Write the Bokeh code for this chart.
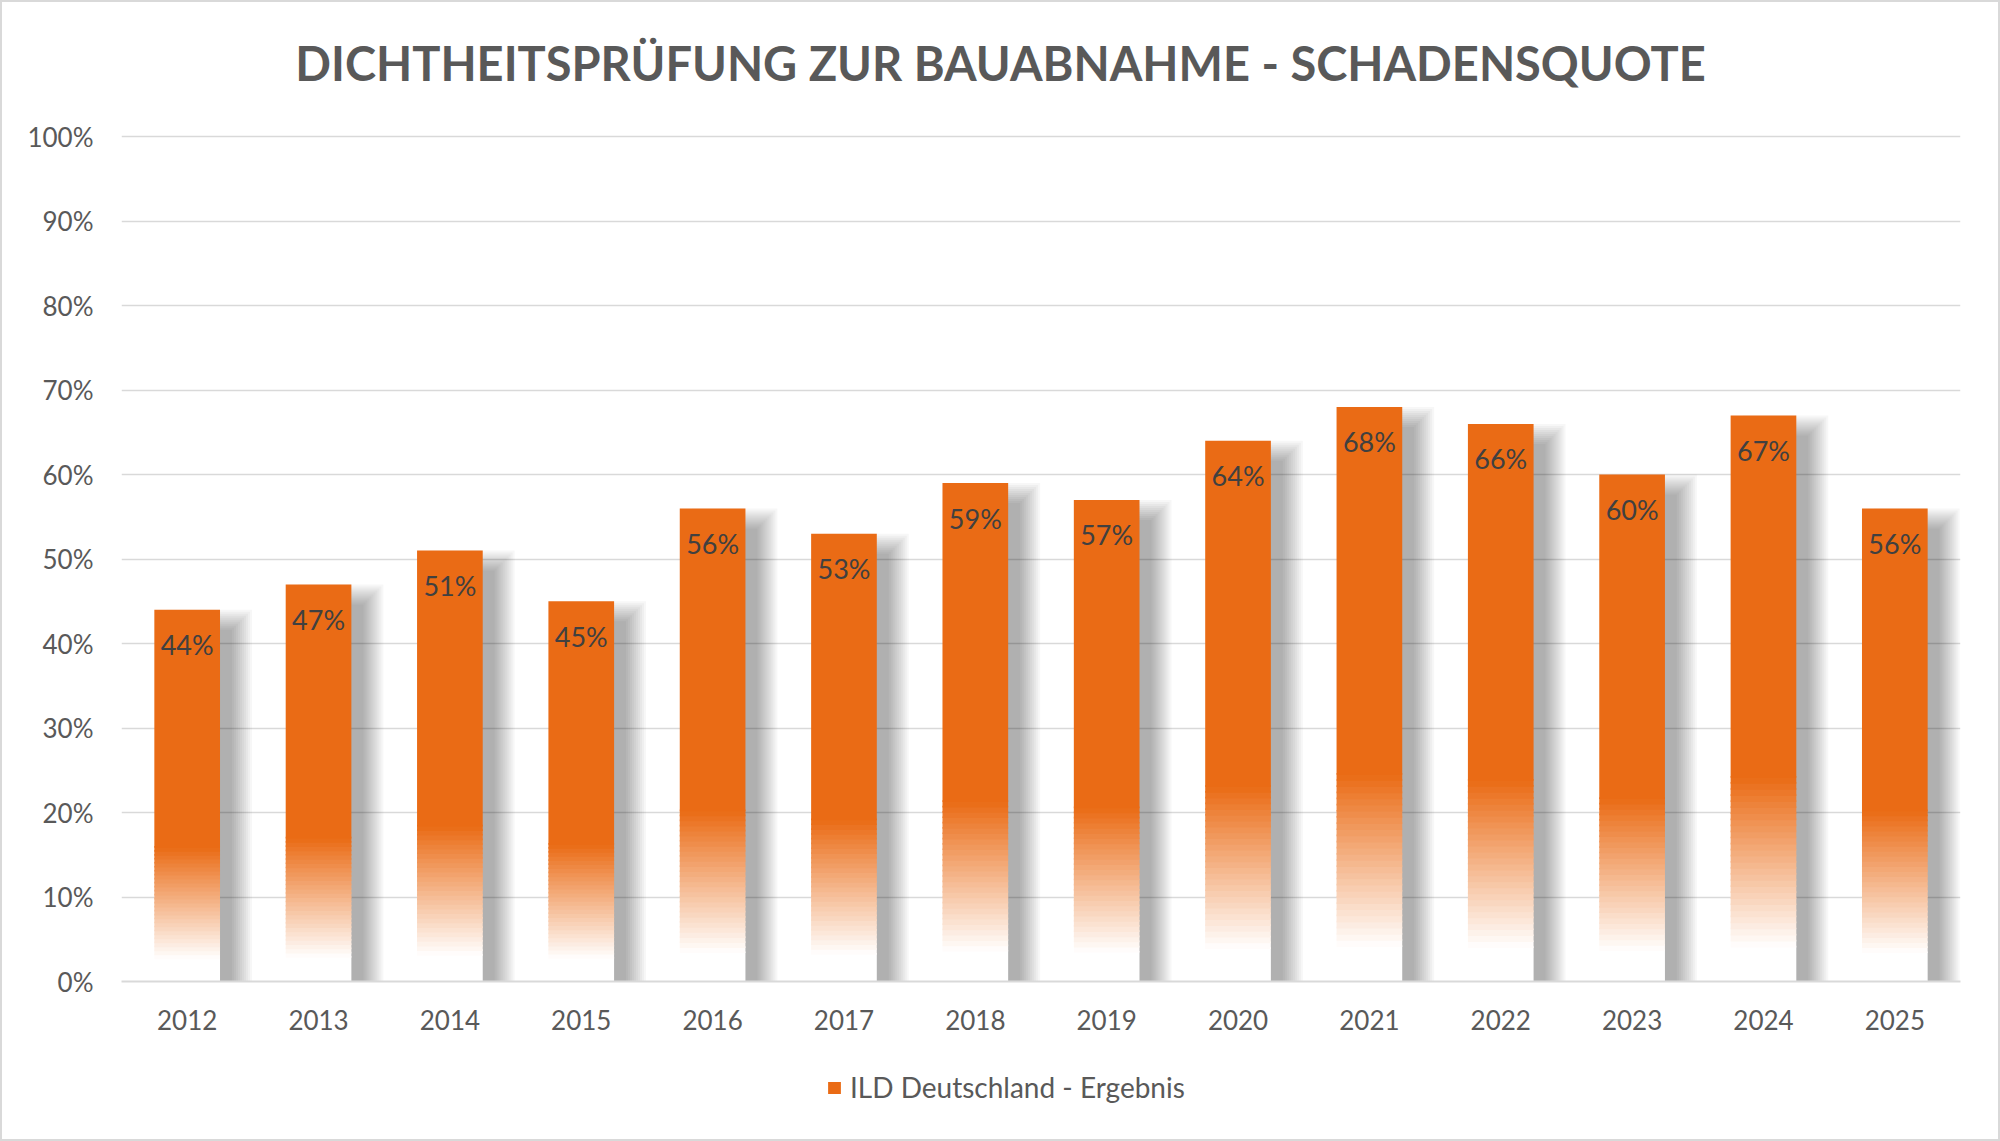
import numpy as np
from bokeh.plotting import figure
from bokeh.layouts import column
from bokeh.models import (ColumnDataSource, Range1d, FixedTicker, NumeralTickFormatter,
                          Legend, LegendItem)
from bokeh.core.properties import value
from bokeh.embed import file_html
from bokeh.resources import INLINE

# ---------------- data ----------------
years = ["2012", "2013", "2014", "2015", "2016", "2017", "2018",
         "2019", "2020", "2021", "2022", "2023", "2024", "2025"]
rates = [0.44, 0.47, 0.51, 0.45, 0.56, 0.53, 0.59,
         0.57, 0.64, 0.68, 0.66, 0.60, 0.67, 0.56]
y_ticks = [0.0, 0.1, 0.2, 0.3, 0.4, 0.5, 0.6, 0.7, 0.8, 0.9, 1.0]
title_text = "DICHTHEITSPRÜFUNG ZUR BAUABNAHME - SCHADENSQUOTE"
series_name = "ILD Deutschland - Ergebnis"
labels = [f"{round(r * 100)}%" for r in rates]

# ---------------- layout / style ----------------
W = 1996
HT, H1, H2 = 110, 940, 87
BL, BR, BT, BB = 119, 38, 14, 71
n = len(years)
Y_END = 1.012
frame_w = W - BL - BR
frame_h = H1 - BT - BB
pxx = n / frame_w          # data units per pixel (x)
pxy = Y_END / frame_h      # data units per pixel (y)

ORANGE = (234, 107, 21)
FONT = "Lato"
GRAY_TXT = "#595959"
orange_hex = "#%02x%02x%02x" % ORANGE

# ---------------- title strip ----------------
p0 = figure(width=W, height=HT, output_backend="svg", toolbar_location=None,
            x_range=Range1d(0, 1), y_range=Range1d(0, 1),
            x_axis_location=None, y_axis_location=None,
            min_border_left=BL, min_border_right=BR, min_border_top=0,
            min_border_bottom=0, outline_line_color=None,
            background_fill_color="white", border_fill_color="white")
p0.grid.visible = False
title_x = ((W / 2) - BL) / frame_w
title_y = 1 - 60 / HT
p0.text(x=[title_x], y=[title_y], text=[title_text], text_align="center",
        text_baseline="middle", text_font=value(FONT), text_font_style="bold",
        text_font_size="47px", text_color=GRAY_TXT)

# ---------------- main chart ----------------
p = figure(width=W, height=H1, output_backend="svg", toolbar_location=None,
           x_range=Range1d(-0.5, n - 0.5), y_range=Range1d(0, Y_END),
           min_border_left=BL, min_border_right=BR, min_border_top=BT,
           min_border_bottom=BB, background_fill_color="white",
           border_fill_color="white", outline_line_color=None)

# shadows (blurred, offset)
hw = 0.25
dx, dy, blur = 22 * pxx, 10 * pxy, 22
L = 11
alpha = 1 - 0.71 ** (1 / L)
sl, sr, sb, st = [], [], [], []
for i, v in enumerate(rates):
    for j in range(L):
        t = (j + 0.5) / L
        e = blur * (0.5 - t)
        sl.append(i - hw + dx - e * pxx)
        sr.append(i + hw + dx + e * pxx)
        sb.append(-0.05)
        st.append(v - dy + e * pxy)
p.quad(left=sl, right=sr, bottom=sb, top=st, fill_color="black",
       fill_alpha=alpha, line_color=None)

# gradient bars
f0, f1, N = 0.06, 0.36, 28
gl, gr, gb, gt, gc = [], [], [], [], []
for i, v in enumerate(rates):
    gl.append(i - hw); gr.append(i + hw); gb.append(0); gt.append(v * f0 + 0.002)
    gc.append("#ffffff")
    for k in range(N):
        t = (k + 0.5) / N
        c = tuple(int(round(255 + (o - 255) * t)) for o in ORANGE)
        b = v * (f0 + (f1 - f0) * k / N)
        tp = v * (f0 + (f1 - f0) * (k + 1) / N) + 0.002
        gl.append(i - hw); gr.append(i + hw); gb.append(b); gt.append(tp)
        gc.append("#%02x%02x%02x" % c)
grad_src = ColumnDataSource(dict(left=gl, right=gr, bottom=gb, top=gt, fill=gc))
p.quad(left="left", right="right", bottom="bottom", top="top", fill_color="fill",
       line_color=None, source=grad_src)

p.quad(left=[i - hw for i in range(n)], right=[i + hw for i in range(n)],
       bottom=[v * f1 for v in rates], top=rates,
       fill_color=orange_hex, line_color=None)

# data labels
p.text(x=list(range(n)), y=[v - 35 * pxy for v in rates], text=labels,
       text_align="center", text_baseline="middle", text_font=value(FONT),
       text_font_size="27px", text_color="#404040")

# axes / grid
p.xaxis.ticker = FixedTicker(ticks=list(range(n)))
p.xaxis.major_label_overrides = {i: y for i, y in enumerate(years)}
p.xaxis.major_tick_line_color = None
p.xaxis.minor_tick_line_color = None
p.xaxis.axis_line_color = "#d9d9d9"
p.xaxis.axis_line_width = 2
p.xaxis.major_label_standoff = 22
p.xaxis.major_label_text_font = FONT
p.xaxis.major_label_text_font_size = "26px"
p.xaxis.major_label_text_color = GRAY_TXT

p.yaxis.ticker = FixedTicker(ticks=y_ticks)
p.yaxis.formatter = NumeralTickFormatter(format="0%")
p.yaxis.axis_line_color = None
p.yaxis.major_tick_line_color = None
p.yaxis.minor_tick_line_color = None
p.yaxis.major_label_standoff = 22
p.yaxis.major_label_text_font = FONT
p.yaxis.major_label_text_font_size = "26px"
p.yaxis.major_label_text_color = GRAY_TXT

p.xgrid.grid_line_color = None
p.ygrid.grid_line_color = "#d9d9d9"
p.ygrid.grid_line_width = 1.5

# ---------------- legend strip ----------------
p2 = figure(width=W, height=H2, output_backend="svg", toolbar_location=None,
            x_range=Range1d(0, 1), y_range=Range1d(0, 1),
            x_axis_location=None, y_axis_location=None,
            min_border_left=BL, min_border_right=BR, min_border_top=0,
            min_border_bottom=0, outline_line_color=None,
            background_fill_color="white", border_fill_color="white")
p2.grid.visible = False
key_r = p2.quad(left=[5], right=[6], bottom=[5], top=[6],
                fill_color=orange_hex, line_color=None)
legend = Legend(items=[LegendItem(label=series_name, renderers=[key_r])],
                location=(705, 35), orientation="horizontal",
                glyph_width=16, glyph_height=15, label_standoff=8,
                padding=0, margin=0, border_line_color=None,
                background_fill_alpha=0, label_text_font=FONT,
                label_text_font_size="28px", label_text_color=GRAY_TXT)
p2.add_layout(legend, "center")

page = column(p0, p, p2, spacing=0, styles={"border": "2px solid #d9d9d9"})

open("out.html", "w").write(file_html(page, INLINE))
